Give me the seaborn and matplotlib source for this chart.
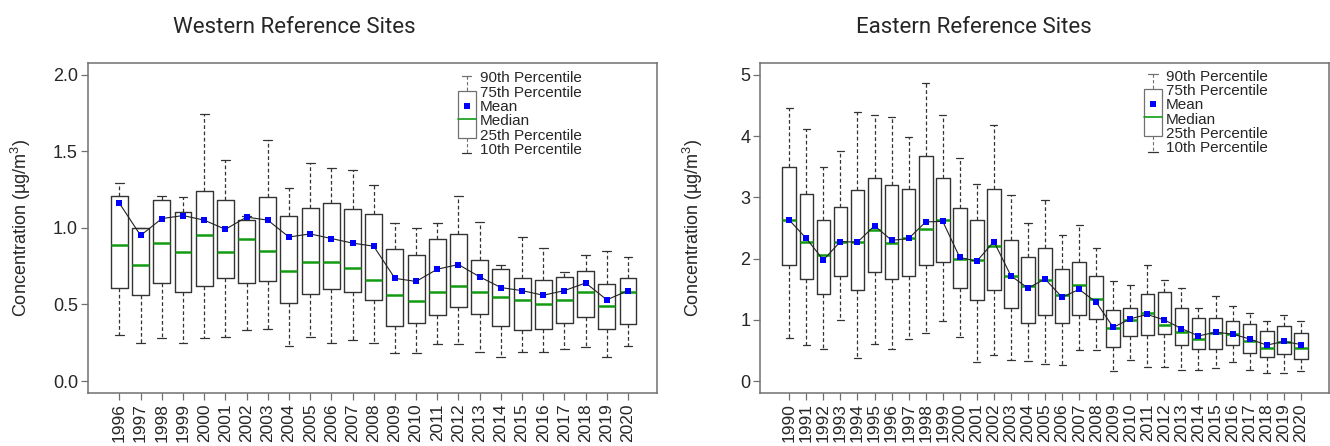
import numpy as np
import matplotlib.pyplot as plt
import seaborn as sns

# western sites, 1996-2020
west_years = [str(y) for y in range(1996, 2021)]
west_p90 = [1.29, 1.00, 1.21, 1.20, 1.74, 1.44, 1.08, 1.57, 1.26, 1.42, 1.39, 1.38, 1.28,
            1.03, 1.00, 1.03, 1.21, 1.04, 0.76, 0.94, 0.87, 0.71, 0.82, 0.85, 0.81]
west_p75 = [1.21, 1.00, 1.18, 1.10, 1.24, 1.18, 1.05, 1.20, 1.08, 1.13, 1.16, 1.12, 1.09,
            0.86, 0.82, 0.93, 0.96, 0.79, 0.73, 0.67, 0.66, 0.68, 0.72, 0.63, 0.67]
west_mean = [1.16, 0.95, 1.06, 1.08, 1.05, 0.99, 1.07, 1.05, 0.94, 0.96, 0.93, 0.90, 0.88,
             0.67, 0.65, 0.73, 0.76, 0.68, 0.61, 0.59, 0.56, 0.59, 0.64, 0.53, 0.59]
west_median = [0.89, 0.76, 0.90, 0.84, 0.95, 0.84, 0.93, 0.85, 0.72, 0.78, 0.78, 0.74, 0.66,
               0.56, 0.52, 0.58, 0.62, 0.58, 0.55, 0.53, 0.50, 0.53, 0.58, 0.49, 0.58]
west_p25 = [0.61, 0.56, 0.64, 0.58, 0.62, 0.67, 0.64, 0.65, 0.51, 0.57, 0.60, 0.58, 0.53,
            0.36, 0.38, 0.43, 0.48, 0.44, 0.36, 0.33, 0.34, 0.38, 0.42, 0.34, 0.37]
west_p10 = [0.30, 0.25, 0.28, 0.25, 0.28, 0.29, 0.33, 0.34, 0.23, 0.29, 0.25, 0.27, 0.25,
            0.18, 0.18, 0.24, 0.24, 0.19, 0.16, 0.19, 0.19, 0.21, 0.22, 0.16, 0.23]

# eastern sites, 1990-2020
east_years = [str(y) for y in range(1990, 2021)]
east_p90 = [4.46, 4.12, 3.50, 3.75, 4.39, 4.34, 4.31, 3.98, 4.86, 4.34, 3.65, 3.22, 4.19, 3.04,
            2.58, 2.96, 2.38, 2.55, 2.17, 1.63, 1.57, 1.89, 1.66, 1.53, 1.20, 1.39, 1.23, 1.11,
            0.99, 1.08, 0.99]
east_p75 = [3.50, 3.05, 2.63, 2.84, 3.12, 3.31, 3.20, 3.13, 3.67, 3.31, 2.82, 2.64, 3.14, 2.31,
            2.02, 2.18, 1.83, 1.94, 1.72, 1.17, 1.20, 1.42, 1.45, 1.19, 1.04, 1.04, 0.99, 0.93,
            0.82, 0.91, 0.78]
east_mean = [2.63, 2.33, 1.98, 2.28, 2.27, 2.54, 2.30, 2.33, 2.60, 2.61, 2.02, 1.96, 2.28, 1.72,
             1.52, 1.67, 1.37, 1.50, 1.29, 0.88, 1.02, 1.09, 1.00, 0.86, 0.74, 0.80, 0.77, 0.69,
             0.59, 0.65, 0.60]
east_median = [2.63, 2.27, 2.06, 2.28, 2.27, 2.47, 2.26, 2.34, 2.49, 2.63, 2.00, 1.98, 2.20, 1.71,
               1.56, 1.65, 1.40, 1.57, 1.35, 0.87, 1.00, 1.12, 0.92, 0.80, 0.69, 0.78, 0.77, 0.66,
               0.55, 0.64, 0.54]
east_p25 = [1.90, 1.67, 1.42, 1.71, 1.49, 1.78, 1.67, 1.72, 1.90, 1.94, 1.52, 1.33, 1.49, 1.20,
            0.95, 1.08, 0.95, 1.08, 1.01, 0.56, 0.74, 0.75, 0.77, 0.60, 0.52, 0.53, 0.60, 0.46,
            0.40, 0.45, 0.37]
east_p10 = [0.70, 0.60, 0.53, 1.00, 0.38, 0.61, 0.53, 0.69, 0.79, 0.99, 0.72, 0.32, 0.43, 0.35,
            0.33, 0.28, 0.26, 0.51, 0.51, 0.17, 0.34, 0.23, 0.23, 0.18, 0.18, 0.21, 0.32, 0.19,
            0.14, 0.13, 0.17]

legend_labels = ['90th Percentile', '75th Percentile', 'Mean', 'Median',
                 '25th Percentile', '10th Percentile']

sns.set_style('white')
plt.rcParams['font.family'] = ['Liberation Sans', 'DejaVu Sans']
plt.rcParams['mathtext.default'] = 'regular'

EDGE = '#333333'
GREEN = '#139a13'
BLUE = '#0000ff'
SPINE = '#707070'


def draw_panel(ax, years, p10, p25, med, mean, p75, p90, xlim, ylim, yticks, fmt, leg_x, leg_y0):
    pos = np.arange(len(years))
    stats = [dict(whislo=a, q1=b, med=c, q3=d, whishi=e)
             for a, b, c, d, e in zip(p10, p25, med, p75, p90)]
    ax.bxp(stats, positions=pos, widths=0.8, capwidths=0.42, showfliers=False,
           boxprops=dict(color=EDGE, linewidth=1.0),
           whiskerprops=dict(color=EDGE, linewidth=0.9, linestyle=(0, (3, 2))),
           capprops=dict(color=EDGE, linewidth=0.9),
           medianprops=dict(color=GREEN, linewidth=1.8))
    sns.lineplot(x=pos, y=mean, color='#222222', linewidth=0.8, ax=ax, zorder=4)
    sns.scatterplot(x=pos, y=mean, marker='s', color=BLUE, s=20, linewidth=0, ax=ax, zorder=5)

    ax.set_xlim(*xlim)
    ax.set_ylim(*ylim)
    ax.set_xticks(pos, years, rotation=90, fontsize=12.5)
    ax.set_yticks(yticks, [fmt.format(v) for v in yticks], fontsize=13)
    ax.tick_params(axis='both', bottom=True, left=True, length=5, width=0.9, color=SPINE, pad=2)
    for s in ax.spines.values():
        s.set_color(SPINE)
        s.set_linewidth(1.1)
    ax.set_ylabel('Concentration (µg/m$^{3}$)', fontsize=13)
    ax.yaxis.set_label_coords(-0.096, 0.5)

    # custom legend glyph
    tr = ax.transAxes
    hw = 0.0158
    ax.add_patch(plt.Rectangle((leg_x - hw, leg_y0 - 0.181), 2 * hw, 0.143, transform=tr,
                               fill=False, edgecolor=SPINE, linewidth=0.9))
    ax.plot([leg_x - 0.008, leg_x + 0.008], [leg_y0 + 0.0075] * 2, color=SPINE, lw=0.9, transform=tr)
    ax.plot([leg_x - 0.008, leg_x + 0.008], [leg_y0 - 0.227] * 2, color=EDGE, lw=0.9, transform=tr)
    ax.plot([leg_x] * 2, [leg_y0 + 0.0075, leg_y0 - 0.038], color=SPINE, lw=0.8,
            linestyle=(0, (3, 2)), transform=tr)
    ax.plot([leg_x] * 2, [leg_y0 - 0.181, leg_y0 - 0.227], color=SPINE, lw=0.8,
            linestyle=(0, (3, 2)), transform=tr)
    ax.plot([leg_x - hw, leg_x + hw], [leg_y0 - 0.123] * 2, color=GREEN, lw=1.2, transform=tr)
    ax.plot([leg_x], [leg_y0 - 0.084], marker='s', color=BLUE, ms=5, mew=0, transform=tr)
    for i, lab in enumerate(legend_labels):
        ax.text(leg_x + 0.023, leg_y0 - i * 0.0435, lab, transform=tr, fontsize=11,
                va='center', ha='left')


fig = plt.figure(figsize=(13.3, 4.46), dpi=100)
ax1 = fig.add_axes([0.0659, 0.1182, 0.4278, 0.740])
ax2 = fig.add_axes([0.5714, 0.1182, 0.4278, 0.740])

draw_panel(ax1, west_years, west_p10, west_p25, west_median, west_mean, west_p75, west_p90,
           (-1.5, 25.35), (-0.08, 2.074), [0.0, 0.5, 1.0, 1.5, 2.0], '{:.1f}', 0.6666, 0.9545)
draw_panel(ax2, east_years, east_p10, east_p25, east_median, east_mean, east_p75, east_p90,
           (-1.72, 31.65), (-0.196, 5.19), [0, 1, 2, 3, 4, 5], '{:d}', 0.6907, 0.9594)

fig.text(294.5 / 1330, 1 - 32.7 / 446, 'Western Reference Sites', ha='center', va='baseline',
         fontsize=16, family=['Roboto', 'DejaVu Sans'])
fig.text(974 / 1330, 1 - 32.7 / 446, 'Eastern Reference Sites', ha='center', va='baseline',
         fontsize=16, family=['Roboto', 'DejaVu Sans'])

plt.savefig('out.png', dpi=100)
